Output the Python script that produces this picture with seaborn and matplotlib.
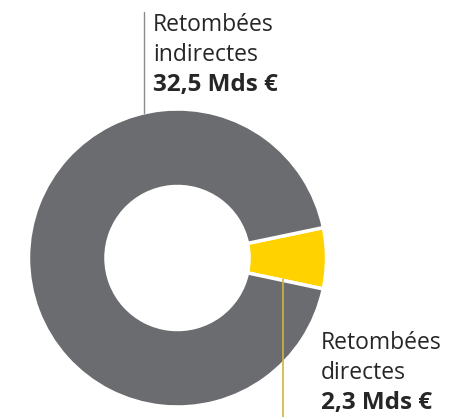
import matplotlib
matplotlib.use("Agg")
import matplotlib.pyplot as plt
import seaborn as sns

# Data
labels = ["Retombées directes", "Retombées indirectes"]
values = [2.3, 32.5]
value_labels = ["2,3 Mds €", "32,5 Mds €"]
colors = ["#ffd200", "#6b6c70"]

sns.set_theme(style="white")
plt.rcParams["font.family"] = ["Open Sans", "DejaVu Sans"]

W, H = 474, 417
fig = plt.figure(figsize=(W / 100, H / 100), dpi=100)

# donut centre / radius in pixels (from top-left)
cx, cy, r = 177.5, 258, 149
pad = 1.2
ax = fig.add_axes([(cx - r * pad) / W, (H - cy - r * pad) / H,
                   2 * r * pad / W, 2 * r * pad / H])

ax.pie(values, colors=colors, startangle=-12, counterclock=True,
       radius=1, wedgeprops=dict(width=0.52, edgecolor="white", linewidth=2.5))
ax.set_xlim(-pad, pad)
ax.set_ylim(-pad, pad)
ax.set_aspect("equal")
ax.axis("off")


def d(px, py):
    # pixel -> data coords
    return (px - cx) / r, (cy - py) / r


txt_color = "#262626"
fs = 16.5
fs_bold = 17.5

# top label (indirectes)
x0, _ = d(144, 0)
ax.plot([x0, x0], [d(0, 113)[1], d(0, 12)[1]], color="#8a8a8a", lw=1, clip_on=False)
tx, _ = d(153, 0)
ax.text(tx, d(0, 31)[1], "Retombées", fontsize=fs, color=txt_color, va="baseline")
ax.text(tx, d(0, 61)[1], "indirectes", fontsize=fs, color=txt_color, va="baseline")
ax.text(tx, d(0, 91)[1], value_labels[1], fontsize=fs_bold, color=txt_color, va="baseline", fontweight="bold")

# bottom label (directes)
x1, _ = d(283, 0)
ax.plot([x1, x1], [d(0, 279)[1], d(0, 420)[1]], color="#d1b43a", lw=1.2, clip_on=False)
bx, _ = d(321, 0)
ax.text(bx, d(0, 349)[1], "Retombées", fontsize=fs, color=txt_color, va="baseline")
ax.text(bx, d(0, 379)[1], "directes", fontsize=fs, color=txt_color, va="baseline")
ax.text(bx, d(0, 409)[1], value_labels[0], fontsize=fs_bold, color=txt_color, va="baseline", fontweight="bold")

fig.savefig("out.png", dpi=100)
